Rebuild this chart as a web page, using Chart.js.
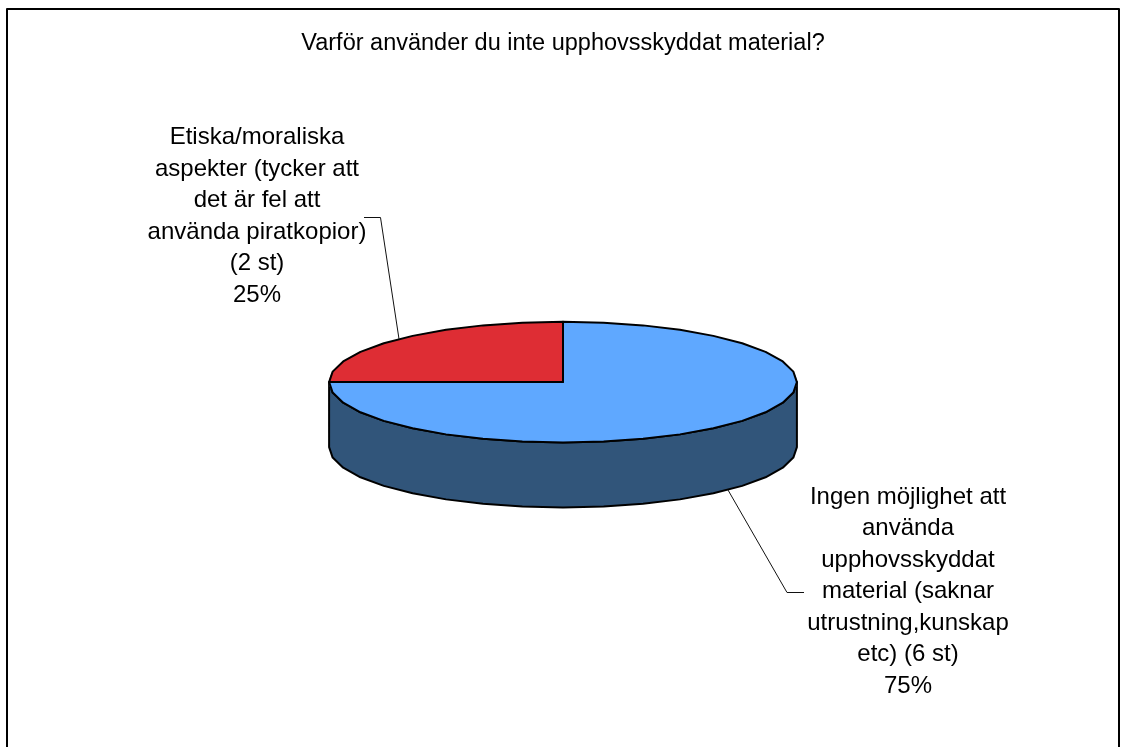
<!DOCTYPE html>
<html lang="sv">
<head>
<meta charset="utf-8">
<style>html,body{margin:0;padding:0;background:#fff;overflow:hidden}canvas{display:block}</style>
<script src="https://cdn.jsdelivr.net/npm/chart.js@4/dist/chart.umd.js"></script>
</head>
<body>
<canvas id="c" width="1121" height="747"></canvas>
<script>
const titleText = 'Varför använder du inte upphovsskyddat material?';
const categories = ['Ingen möjlighet att använda upphovsskyddat material (saknar utrustning,kunskap etc) (6 st)', 'Etiska/moraliska aspekter (tycker att det är fel att använda piratkopior) (2 st)'];
const values = [6, 2];
const sliceColors = ['#5FA8FF', '#DE2D34'];
const sideColors = ['#31557A', '#7A1A1E'];
const labelLines = [
  ['Ingen möjlighet att','använda','upphovsskyddat','material (saknar','utrustning,kunskap','etc) (6 st)','75%'],
  ['Etiska/moraliska','aspekter (tycker att','det är fel att','använda piratkopior)','(2 st)','25%']
];
const FONT = '"Liberation Sans", Arial, sans-serif';
const TILT = 60 / 232.5, DEPTH = 65, STEP = Math.PI / 18;

function ring(a0, a1, el, dy) {
  const pts = [], n = Math.max(1, Math.round((a1 - a0) / STEP));
  for (let i = 0; i <= n; i++) {
    const a = a0 + (a1 - a0) * i / n;
    pts.push([el.x + el.outerRadius * Math.cos(a), el.y + dy + TILT * el.outerRadius * Math.sin(a)]);
  }
  return pts;
}
function trace(ctx, pts) { pts.forEach((p, i) => i ? ctx.lineTo(p[0], p[1]) : ctx.moveTo(p[0], p[1])); }

const pie3d = {
  id: 'pie3d',
  beforeDatasetsDraw(chart) {
    const ctx = chart.ctx, arcs = chart.getDatasetMeta(0).data;
    arcs.forEach((el, i) => {
      const a0 = Math.max(el.startAngle, 0), a1 = Math.min(el.endAngle, Math.PI);
      if (a1 <= a0) return;
      const top = ring(a0, a1, el, 0), bot = ring(a0, a1, el, DEPTH).reverse();
      ctx.beginPath(); trace(ctx, top); bot.forEach(p => ctx.lineTo(p[0], p[1])); ctx.closePath();
      ctx.fillStyle = sideColors[i]; ctx.fill();
      ctx.strokeStyle = '#000'; ctx.lineWidth = 2; ctx.lineJoin = 'round'; ctx.stroke();
    });
    const el = arcs[0];
    ctx.save();
    ctx.translate(el.x, el.y); ctx.scale(1, TILT); ctx.translate(-el.x, -el.y);
  },
  afterDatasetsDraw(chart) {
    const ctx = chart.ctx, arcs = chart.getDatasetMeta(0).data;
    ctx.restore();
    arcs.forEach(el => {
      ctx.beginPath();
      ctx.moveTo(el.x, el.y);
      ring(el.startAngle, el.endAngle, el, 0).forEach(p => ctx.lineTo(p[0], p[1]));
      ctx.closePath();
      ctx.strokeStyle = '#000'; ctx.lineWidth = 2; ctx.lineJoin = 'round'; ctx.stroke();
    });
  }
};

const annotations = {
  id: 'annotations',
  afterDraw(chart) {
    const ctx = chart.ctx;
    ctx.strokeStyle = '#000'; ctx.lineWidth = 2;
    ctx.strokeRect(7, 9, 1112, 800);
    ctx.lineWidth = 1; ctx.strokeStyle = '#111';
    [[[364,217.5],[380.5,217.5],[399,339]], [[728,490],[787,592.5],[804,592.5]]].forEach(line => {
      ctx.beginPath(); trace(ctx, line); ctx.stroke();
    });
    ctx.fillStyle = '#000'; ctx.font = '24px ' + FONT;
    ctx.textAlign = 'center'; ctx.textBaseline = 'alphabetic';
    labelLines[1].forEach((t, i) => ctx.fillText(t, 257, 144 + i * 31.6));
    labelLines[0].forEach((t, i) => ctx.fillText(t, 908, 504 + i * 31.45));
  }
};

new Chart(document.getElementById('c'), {
  type: 'pie',
  data: { labels: categories, datasets: [{ data: values, backgroundColor: sliceColors, borderWidth: 0, hoverOffset: 0 }] },
  options: {
    responsive: false,
    animation: false,
    layout: { padding: { left: 5, right: 0, top: 0, bottom: 131 } },
    plugins: {
      legend: { display: false },
      tooltip: { enabled: false },
      title: { display: true, text: titleText, color: '#000', font: { family: FONT, size: 23.5, weight: 'normal' }, padding: { top: 29, bottom: 91 } }
    }
  },
  plugins: [pie3d, annotations]
});
</script>
</body>
</html>
